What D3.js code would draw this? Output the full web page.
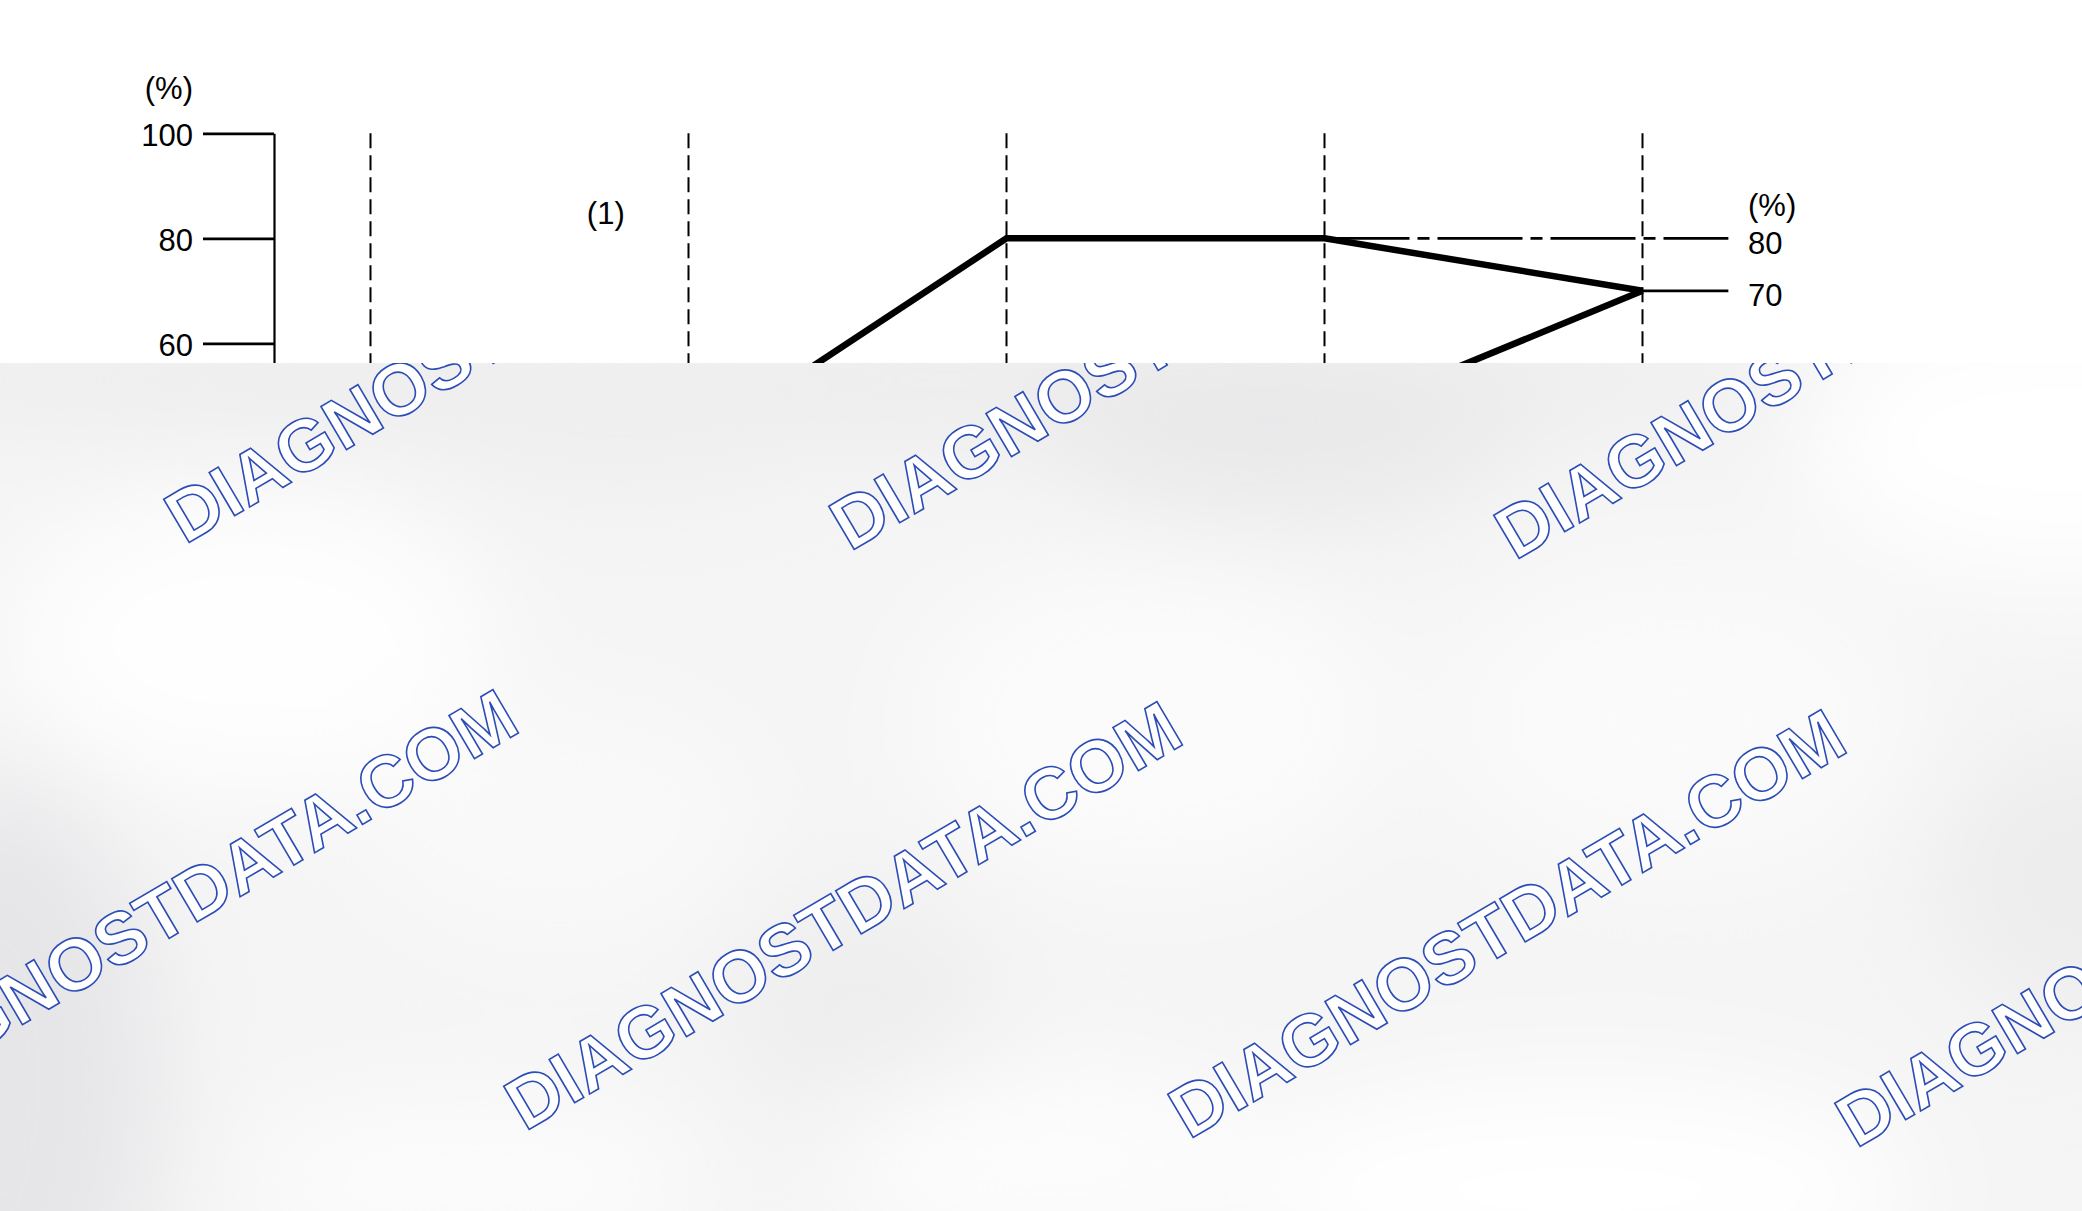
<!DOCTYPE html>
<html>
<head>
<meta charset="utf-8">
<script src="https://cdn.jsdelivr.net/npm/d3@7"></script>
<style>
  html, body { margin: 0; padding: 0; background: #ffffff; }
  svg { display: block; }
  text { font-family: "Liberation Sans", Arial, sans-serif; }
</style>
</head>
<body>
<svg id="chart" width="2082" height="1211"></svg>
<script>
// ---------- data ----------
const stages = [0, 1, 2, 3, 4];                 // dashed stage boundaries
const leftTicks = [0, 20, 40, 60, 80, 100];     // left axis (%)
const rightTicks = [80, 70];                    // right-hand reference values (%)
const mainLine = [                              // thick line
  { s: 1, v: 40 }, { s: 2, v: 80 }, { s: 3, v: 80 }, { s: 4, v: 70 }
];
const riseLine = [                              // second thick line
  { s: 3, v: 45 }, { s: 4, v: 70 }
];
const holdLine = [                              // dash-dot continuation at 80 %
  { s: 3, v: 80 }, { s: 4.27, v: 80 }
];
const unitLabel = "(%)";
const regionLabel = "(1)";
const watermarkText = "DIAGNOSTDATA.COM";

// ---------- setup ----------
const svg = d3.select("#chart");
const x = d3.scaleLinear().domain([0, 4]).range([370.5, 1642.5]);
const y = d3.scaleLinear().domain([0, 100]).range([658.3, 133.3]);
const axisX = 274;

// left axis
const gAxis = svg.append("g").attr("transform", `translate(${axisX},0)`);
gAxis.call(d3.axisLeft(y).tickValues(leftTicks).tickSize(71).tickSizeOuter(0).tickPadding(10).tickFormat(d3.format("d")));
gAxis.select(".domain").attr("stroke", "#000").attr("stroke-width", 2.2);
gAxis.selectAll(".tick line").attr("stroke", "#000").attr("stroke-width", 2.8);
gAxis.selectAll(".tick text").attr("font-size", 31).attr("fill", "#000")
  .attr("font-family", "'Liberation Sans', Arial, sans-serif").attr("dy", "0.4em");

svg.append("text").attr("x", 193).attr("y", 99).attr("text-anchor", "end")
  .attr("font-size", 31).text(unitLabel);

// dashed stage lines
svg.append("g").selectAll("line").data(stages).join("line")
  .attr("x1", d => x(d)).attr("x2", d => x(d))
  .attr("y1", y(100)).attr("y2", y(0))
  .attr("stroke", "#000").attr("stroke-width", 2).attr("stroke-dasharray", "15,7");

svg.append("text").attr("x", x(0.74)).attr("y", 224).attr("text-anchor", "middle")
  .attr("font-size", 31).text(regionLabel);

const line = d3.line().x(d => x(d.s)).y(d => y(d.v));

// dash-dot hold line
svg.append("path").datum(holdLine).attr("d", line).attr("fill", "none")
  .attr("stroke", "#000").attr("stroke-width", 2.8).attr("stroke-dasharray", "85,8,12,8");

// right reference tick at 70
svg.append("line").attr("x1", x(4)).attr("x2", x(4.27))
  .attr("y1", y(70)).attr("y2", y(70)).attr("stroke", "#000").attr("stroke-width", 2.8);

// thick lines
[mainLine, riseLine].forEach(data => {
  svg.append("path").datum(data).attr("d", line).attr("fill", "none")
    .attr("stroke", "#000").attr("stroke-width", 6.5)
    .attr("stroke-linejoin", "miter").attr("stroke-linecap", "butt");
});

// right labels
svg.append("g").selectAll("text").data(rightTicks).join("text")
  .attr("x", 1748).attr("y", d => y(d)).attr("dy", "0.5em")
  .attr("font-size", 31).text(d => d);
svg.append("text").attr("x", 1748).attr("y", 216).attr("font-size", 31).text(unitLabel);

// ---------- watermark overlay ----------
const defs = svg.append("defs");
defs.append("clipPath").attr("id", "ovClip").append("rect")
  .attr("x", 0).attr("y", 363).attr("width", 2082).attr("height", 848);
defs.append("filter").attr("id", "blur").attr("x", "-50%").attr("y", "-50%")
  .attr("width", "200%").attr("height", "200%")
  .append("feGaussianBlur").attr("stdDeviation", 55);

const ov = svg.append("g").attr("clip-path", "url(#ovClip)");
ov.append("rect").attr("x", 0).attr("y", 363).attr("width", 2082).attr("height", 848).attr("fill", "#f5f5f6");

const blobs = [
  { cx: 800, cy: 380, rx: 1050, ry: 60, c: "#ececed" },
  { cx: 1280, cy: 420, rx: 240, ry: 100, c: "#e9e9ea" },
  { cx: 620, cy: 430, rx: 200, ry: 70, c: "#efeff0" },
  { cx: 0, cy: 1080, rx: 160, ry: 300, c: "#e6e6e8" },
  { cx: 860, cy: 1010, rx: 140, ry: 120, c: "#eeeeef" },
  { cx: 2082, cy: 880, rx: 150, ry: 140, c: "#ededee" },
  { cx: 250, cy: 640, rx: 240, ry: 150, c: "#fefefe" },
  { cx: 2060, cy: 440, rx: 260, ry: 140, c: "#ffffff" },
  { cx: 1580, cy: 1190, rx: 340, ry: 110, c: "#ffffff" },
  { cx: 1150, cy: 720, rx: 240, ry: 160, c: "#fbfbfb" },
  { cx: 470, cy: 1180, rx: 240, ry: 80, c: "#fcfcfc" },
  { cx: 1680, cy: 720, rx: 240, ry: 160, c: "#fafafa" },
  { cx: 1050, cy: 1160, rx: 220, ry: 90, c: "#fdfdfd" },
  { cx: 560, cy: 820, rx: 200, ry: 120, c: "#f9f9f9" }
];
ov.append("g").attr("filter", "url(#blur)").selectAll("ellipse").data(blobs).join("ellipse")
  .attr("cx", d => d.cx).attr("cy", d => d.cy).attr("rx", d => d.rx).attr("ry", d => d.ry)
  .attr("fill", d => d.c);

const marks = [
  [185, 545], [850, 552], [1515, 561],
  [-139, 1120], [525, 1132], [1189, 1140], [1856, 1149]
];
ov.append("g").selectAll("text").data(marks).join("text")
  .attr("transform", d => `translate(${d[0]},${d[1]}) rotate(-30.5)`)
  .attr("font-size", 73).attr("font-weight", "bold")
  .attr("fill", "#ffffff").attr("stroke", "#2c4cb6").attr("stroke-width", 1.6)
  .text(watermarkText);
</script>
</body>
</html>
